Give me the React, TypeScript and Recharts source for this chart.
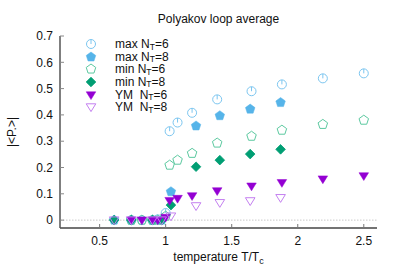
import {
  ScatterChart,
  Scatter,
  XAxis,
  YAxis,
  ReferenceLine,
  Legend,
} from "recharts";

// temperatures T/Tc for the two lattice sizes
const tempNt6 = [0.74, 0.82, 0.9, 0.94, 1.0, 1.03, 1.09, 1.2, 1.39, 1.65, 1.88, 2.19, 2.5];
const tempNt8 = [0.61, 0.74, 0.9, 0.97, 1.04, 1.23, 1.41, 1.64, 1.87];

const maxNt6 = [0, 0, 0, 0.003, 0.027, 0.338, 0.371, 0.408, 0.459, 0.49, 0.516, 0.539, 0.558];
const maxNt8 = [0, 0, 0, 0, 0.108, 0.358, 0.397, 0.422, 0.447];
const minNt6 = [0, 0, 0, 0, 0.015, 0.209, 0.228, 0.254, 0.293, 0.319, 0.342, 0.364, 0.38];
const minNt8 = [0, 0, 0, 0, 0.057, 0.203, 0.228, 0.251, 0.269];
const ymNt6 = [0, 0, 0, 0, 0.01, 0.074, 0.082, 0.092, 0.111, 0.129, 0.142, 0.156, 0.168];
const ymNt8 = [0, 0, 0, 0, 0.015, 0.054, 0.066, 0.073, 0.085];

const xTicks = [0.5, 1, 1.5, 2, 2.5];
const yTicks = [0, 0.1, 0.2, 0.3, 0.4, 0.5, 0.6, 0.7];

const FONT = "'Liberation Sans', Arial, sans-serif";

type Kind = "ring" | "pentFill" | "pentOpen" | "diamond" | "triFill" | "triOpen";

const series: { name: string; nt: string; kind: Kind; color: string; t: number[]; p: number[] }[] = [
  { name: "max", nt: "6", kind: "ring", color: "#7cc6f0", t: tempNt6, p: maxNt6 },
  { name: "max", nt: "8", kind: "pentFill", color: "#56b4e9", t: tempNt8, p: maxNt8 },
  { name: "min", nt: "6", kind: "pentOpen", color: "#5cc9a0", t: tempNt6, p: minNt6 },
  { name: "min", nt: "8", kind: "diamond", color: "#009e73", t: tempNt8, p: minNt8 },
  { name: "YM ", nt: "6", kind: "triFill", color: "#9400d3", t: tempNt6, p: ymNt6 },
  { name: "YM ", nt: "8", kind: "triOpen", color: "#c47ff0", t: tempNt8, p: ymNt8 },
];

const toPoints = (t: number[], p: number[]) => t.map((x, i) => ({ t: x, p: p[i] }));

function pentagon(cx: number, cy: number, r: number) {
  const pts = [];
  for (let k = 0; k < 5; k++) {
    const a = ((-90 + k * 72) * Math.PI) / 180;
    pts.push(`${cx + r * Math.cos(a)},${cy + r * Math.sin(a)}`);
  }
  return pts.join(" ");
}

function Marker({ kind, cx, cy, color }: { kind: Kind; cx: number; cy: number; color: string }) {
  switch (kind) {
    case "ring":
      return (
        <g>
          <circle cx={cx} cy={cy} r={4.5} fill="none" stroke={color} strokeWidth={1} />
          <line x1={cx} y1={cy - 4.5} x2={cx} y2={cy} stroke={color} strokeWidth={1} />
        </g>
      );
    case "pentFill":
      return <polygon points={pentagon(cx, cy, 5)} fill={color} stroke={color} strokeWidth={0.5} />;
    case "pentOpen":
      return <polygon points={pentagon(cx, cy, 5)} fill="none" stroke={color} strokeWidth={1} />;
    case "diamond":
      return (
        <polygon
          points={`${cx},${cy - 4.8} ${cx + 4.8},${cy} ${cx},${cy + 4.8} ${cx - 4.8},${cy}`}
          fill={color}
          stroke={color}
          strokeWidth={0.8}
          strokeLinejoin="round"
        />
      );
    case "triFill":
      return (
        <polygon
          points={`${cx - 4.8},${cy - 3.2} ${cx + 4.8},${cy - 3.2} ${cx},${cy + 4.6}`}
          fill={color}
          stroke={color}
          strokeWidth={0.5}
        />
      );
    default:
      return (
        <polygon
          points={`${cx - 4.8},${cy - 3.2} ${cx + 4.8},${cy - 3.2} ${cx},${cy + 4.6}`}
          fill="none"
          stroke={color}
          strokeWidth={1}
        />
      );
  }
}

function LegendBox() {
  return (
    <div style={{ fontFamily: FONT, fontSize: 12, color: "#111" }}>
      {series.map((s) => (
        <div key={s.name + s.nt} style={{ display: "flex", alignItems: "center", height: 12.66 }}>
          <svg width={14} height={12} style={{ display: "block" }}>
            <Marker kind={s.kind} cx={7} cy={6} color={s.color} />
          </svg>
          <span style={{ marginLeft: 17, whiteSpace: "pre", lineHeight: "12px" }}>
            {s.name} N
            <span style={{ fontSize: 8.5, lineHeight: "7px", position: "relative", top: 1.5 }}>T</span>={s.nt}
          </span>
        </div>
      ))}
    </div>
  );
}

function Title(props: any) {
  const vb = props.viewBox || { x: 60, width: 317 };
  const cx = vb.x + vb.width / 2;
  return (
    <text x={cx} y={23} textAnchor="middle" fontFamily={FONT} fontSize={12} fill="#111">
      Polyakov loop average
    </text>
  );
}

function XLabel(props: any) {
  const vb = props.viewBox;
  const cx = vb.x + vb.width / 2;
  return (
    <text x={cx} y={261} textAnchor="middle" fontFamily={FONT} fontSize={12} fill="#111">
      temperature T/T
      <tspan fontSize={9} dy={3}>c</tspan>
    </text>
  );
}

function YLabel() {
  return (
    <text
      x={0}
      y={0}
      transform="translate(16,132) rotate(-90)"
      textAnchor="middle"
      fontFamily={FONT}
      fontSize={12}
      fill="#111"
    >
      {"|<P.>|"}
    </text>
  );
}

export default function App() {
  const tickStyle = { fontFamily: FONT, fontSize: 12, fill: "#111" };
  return (
    <div style={{ position: "absolute", left: 0, top: 0 }}>
      <ScatterChart width={399} height={279} margin={{ top: 36, right: 22, bottom: 0, left: 0 }}>
        <XAxis
          type="number"
          dataKey="t"
          domain={[0.2, 2.6]}
          ticks={xTicks}
          allowDataOverflow
          height={51}
          tickSize={-4}
          tickMargin={12}
          tick={tickStyle}
          tickLine={{ stroke: "#777" }}
          axisLine={{ stroke: "#444", strokeWidth: 1.5 }}
          label={<XLabel />}
        />
        <XAxis
          xAxisId="top"
          orientation="top"
          type="number"
          dataKey="t"
          domain={[0.2, 2.6]}
          ticks={xTicks}
          allowDataOverflow
          height={0}
          mirror
          tick={false}
          tickSize={4}
          tickLine={{ stroke: "#222" }}
          axisLine={{ stroke: "#111", strokeWidth: 1 }}
        />
        <YAxis
          type="number"
          dataKey="p"
          domain={[-0.03, 0.7]}
          ticks={yTicks}
          allowDataOverflow
          width={60}
          tickSize={-4}
          tickMargin={11}
          tick={tickStyle}
          tickFormatter={(v: number) => (v === 0 ? "0" : v.toFixed(1))}
          tickLine={{ stroke: "#888" }}
          axisLine={{ stroke: "#555", strokeWidth: 1.5 }}
          label={<YLabel />}
        />
        <YAxis
          yAxisId="r"
          orientation="right"
          type="number"
          dataKey="p"
          domain={[-0.03, 0.7]}
          ticks={yTicks}
          allowDataOverflow
          width={0}
          mirror
          tick={false}
          tickSize={4}
          tickLine={{ stroke: "#555" }}
          axisLine={{ stroke: "#888", strokeWidth: 2.5 }}
        />
        <ReferenceLine y={0} stroke="#c8c8c8" strokeDasharray="1.5 1.5" strokeWidth={1} />
        <ReferenceLine y={0.7} stroke="none" label={<Title />} />
        <Legend
          layout="vertical"
          align="center"
          verticalAlign="middle"
          wrapperStyle={{ left: 84, top: 37.7, width: 130 }}
          content={() => <LegendBox />}
        />
        {series.map((s) => (
          <Scatter
            key={s.name + s.nt}
            name={`${s.name} NT=${s.nt}`}
            data={toPoints(s.t, s.p)}
            isAnimationActive={false}
            shape={(props: any) => <Marker kind={s.kind} cx={props.cx} cy={props.cy} color={s.color} />}
          />
        ))}
      </ScatterChart>
    </div>
  );
}
